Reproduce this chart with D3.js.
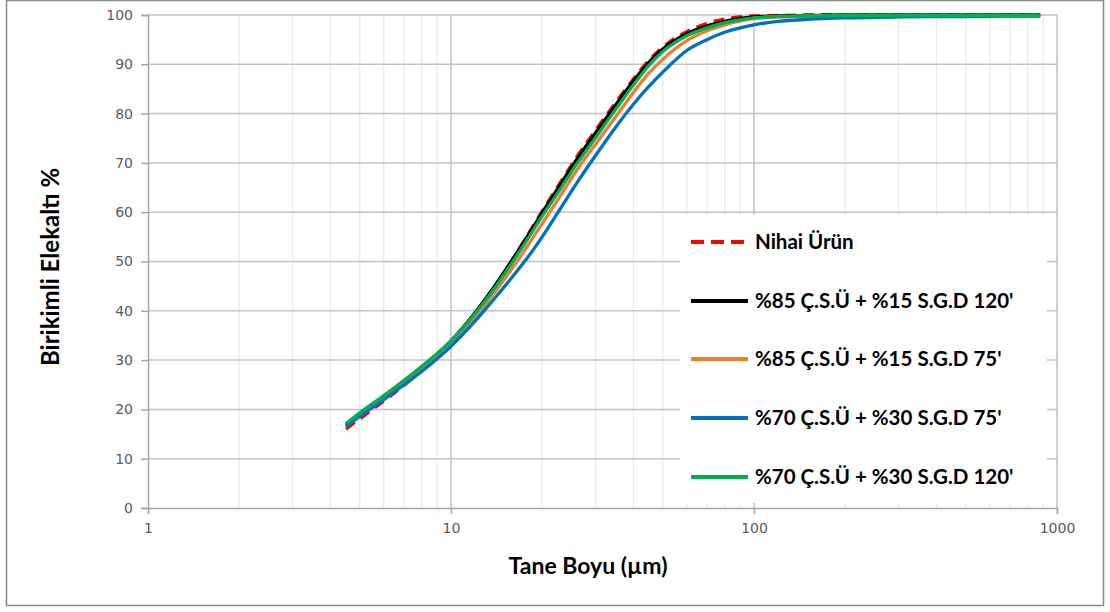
<!DOCTYPE html>
<html>
<head>
<meta charset="utf-8">
<script src="https://cdn.jsdelivr.net/npm/d3@7"></script>
<style>
  html, body { margin: 0; padding: 0; background: #ffffff; }
  svg { display: block; }
</style>
</head>
<body>
<svg id="chart" width="1110" height="612"></svg>
<script>
// Particle size (µm) at which the cumulative passing values are given
const sizes = [4.5, 5, 6, 7, 8, 10, 12, 14, 16, 18, 20, 23, 26, 30, 35, 40, 45, 50, 60, 70, 80, 90, 100, 120, 150, 200, 300, 500, 880];

// Cumulative undersize (%) for each sample
const nihaiUrun = [16.0, 18.1, 21.7, 24.9, 27.9, 33.4, 39.3, 45.0, 50.5, 55.6, 60.2, 66.1, 71.2, 76.6, 82.3, 87.0, 90.8, 93.5, 96.6, 98.3, 99.2, 99.6, 99.8, 99.9, 100, 100, 100, 100, 100];
const csu85_120 = [16.8, 19.0, 22.6, 25.7, 28.6, 33.9, 39.6, 45.2, 50.5, 55.4, 59.9, 65.7, 70.7, 76.1, 81.8, 86.6, 90.4, 93.1, 96.2, 97.8, 98.7, 99.3, 99.6, 99.8, 99.9, 100, 100, 100, 100];
const csu85_75 = [16.9, 19.1, 22.6, 25.6, 28.3, 33.4, 38.8, 43.9, 48.8, 53.4, 57.7, 63.4, 68.5, 73.8, 79.4, 84.3, 88.2, 91.0, 94.8, 96.8, 98.0, 98.8, 99.3, 99.6, 99.8, 99.9, 99.9, 99.9, 99.9];
const csu70_75 = [16.5, 18.6, 22.0, 25.0, 27.7, 32.8, 37.9, 42.7, 47.0, 51.0, 55.0, 60.8, 65.9, 71.5, 77.3, 81.9, 85.5, 88.4, 92.8, 95.0, 96.5, 97.4, 98.0, 98.7, 99.1, 99.4, 99.6, 99.7, 99.8];
const csu70_120 = [17.1, 19.3, 22.8, 25.9, 28.7, 33.9, 39.4, 44.8, 50.0, 54.8, 59.2, 64.8, 69.8, 75.1, 80.9, 85.8, 89.8, 92.6, 95.8, 97.4, 98.4, 99.0, 99.4, 99.7, 99.8, 99.9, 99.9, 99.9, 99.9];

const seriesNames = ["Nihai Ürün", "%85 Ç.S.Ü + %15 S.G.D 120'", "%85 Ç.S.Ü + %15 S.G.D 75'", "%70 Ç.S.Ü + %30 S.G.D 75'", "%70 Ç.S.Ü + %30 S.G.D 120'"];
const seriesValues = [nihaiUrun, csu85_120, csu85_75, csu70_75, csu70_120];
const seriesColors = ["#ff0000", "#000000", "#ed7d31", "#0070c0", "#00b050"];
const seriesDashed = [true, false, false, false, false];

const xTickValues = [1, 10, 100, 1000];
const yTickValues = [0, 10, 20, 30, 40, 50, 60, 70, 80, 90, 100];
const xTitle = "Tane Boyu (µm)";
const yTitle = "Birikimli Elekaltı %";

const svg = d3.select("#chart");
const plot = { left: 148, right: 1057, top: 15, bottom: 508 };

// Outer chart frame
svg.append("rect")
  .attr("x", 6.5).attr("y", 0.5)
  .attr("width", 1097).attr("height", 605)
  .attr("fill", "#ffffff")
  .attr("stroke", "#898989")
  .attr("stroke-width", 1.5);

const x = d3.scaleLog().domain([1, 1000]).range([plot.left, plot.right]);
const y = d3.scaleLinear().domain([0, 100]).range([plot.bottom, plot.top]);

// Minor vertical gridlines (2..9 in each decade)
const minorX = [];
[1, 10, 100].forEach(dec => { for (let k = 2; k <= 9; k++) minorX.push(dec * k); });
svg.append("g").selectAll("line").data(minorX).join("line")
  .attr("x1", d => x(d)).attr("x2", d => x(d))
  .attr("y1", plot.top).attr("y2", plot.bottom)
  .attr("stroke", "#ebebeb").attr("stroke-width", 1.3);

// Major vertical gridlines
svg.append("g").selectAll("line").data(xTickValues.slice(1)).join("line")
  .attr("x1", d => x(d)).attr("x2", d => x(d))
  .attr("y1", plot.top).attr("y2", plot.bottom)
  .attr("stroke", "#bfbfbf").attr("stroke-width", 1.5);

// Horizontal gridlines
svg.append("g").selectAll("line").data(yTickValues.slice(1)).join("line")
  .attr("x1", plot.left).attr("x2", plot.right)
  .attr("y1", d => y(d)).attr("y2", d => y(d))
  .attr("stroke", "#c3c3c3").attr("stroke-width", 1.5);

// Axes
const yAxis = d3.axisLeft(y).tickValues(yTickValues).tickSize(7).tickPadding(8).tickFormat(d3.format("d"));
const gy = svg.append("g").attr("transform", `translate(${plot.left},0)`).call(yAxis);
const xAxis = d3.axisBottom(x).tickValues(xTickValues).tickSize(6).tickPadding(9).tickFormat(d3.format("d"));
const gx = svg.append("g").attr("transform", `translate(0,${plot.bottom})`).call(xAxis);

[gx, gy].forEach(g => {
  g.select(".domain").attr("stroke", "#a6a6a6").attr("stroke-width", 1.5);
  g.selectAll(".tick line").attr("stroke", "#a6a6a6").attr("stroke-width", 1.5);
  g.selectAll(".tick text")
    .attr("fill", "#595959")
    .style("font-family", "'DejaVu Sans', sans-serif")
    .style("font-size", "14px");
});

// Legend panel (opaque, sits over the gridlines)
const legend = { x: 680, y: 215, w: 367, h: 288 };
svg.append("rect")
  .attr("x", legend.x).attr("y", legend.y)
  .attr("width", legend.w).attr("height", legend.h)
  .attr("fill", "#ffffff");

// Curves
const line = d3.line()
  .x((d, i) => x(sizes[i]))
  .y(d => y(d))
  .curve(d3.curveMonotoneX);

seriesValues.forEach((vals, s) => {
  svg.append("path")
    .datum(vals)
    .attr("d", line)
    .attr("fill", "none")
    .attr("stroke", seriesColors[s])
    .attr("stroke-width", 3.3)
    .attr("stroke-linejoin", "round")
    .attr("stroke-dasharray", seriesDashed[s] ? "11,7" : null);
});

// Legend entries
const legendRowY = [242, 301, 359, 418, 477];
const lg = svg.append("g");
seriesNames.forEach((name, s) => {
  const row = lg.append("g").attr("transform", `translate(0,${legendRowY[s]})`);
  row.append("line")
    .attr("x1", 691).attr("x2", 748)
    .attr("y1", 0).attr("y2", 0)
    .attr("stroke", seriesColors[s])
    .attr("stroke-width", 4)
    .attr("stroke-dasharray", seriesDashed[s] ? "13,7" : null);
  row.append("text")
    .attr("x", 755).attr("y", 0)
    .attr("dy", "0.35em")
    .attr("fill", "#000000")
    .style("font-family", "Lato, 'Open Sans', sans-serif")
    .style("font-weight", "bold")
    .style("font-size", "20.5px")
    .text(name);
});

// Axis titles
svg.append("text")
  .attr("x", 588).attr("y", 566)
  .attr("dy", "0.35em")
  .attr("text-anchor", "middle")
  .attr("fill", "#000000")
  .style("font-family", "Lato, 'Open Sans', sans-serif")
  .style("font-weight", "bold")
  .style("font-size", "23px")
  .text(xTitle);

svg.append("text")
  .attr("transform", "translate(51,267) rotate(-90)")
  .attr("dy", "0.35em")
  .attr("text-anchor", "middle")
  .attr("fill", "#000000")
  .style("font-family", "Lato, 'Open Sans', sans-serif")
  .style("font-weight", "bold")
  .style("font-size", "24px")
  .text(yTitle);
</script>
</body>
</html>
